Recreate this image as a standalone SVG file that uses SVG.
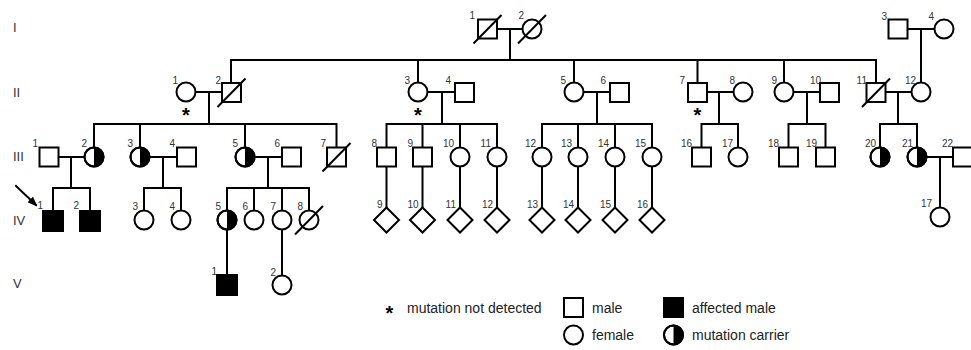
<svg xmlns="http://www.w3.org/2000/svg" xmlns:xlink="http://www.w3.org/1999/xlink" width="971" height="350" viewBox="0 0 971 350">
  <style>
    .sym { fill: #fff; stroke: #000; stroke-width: 2; }
    .aff { fill: #000; stroke: #000; stroke-width: 2; }
    .half { fill: #000; stroke: none; }
    .dead { stroke: #000; stroke-width: 2; fill: none; }
    .ln { stroke: #000; stroke-width: 2; fill: none; stroke-linecap: square; }
    .num { font-family: "Liberation Sans", Arial, sans-serif; font-size: 10px; fill: #333; text-anchor: end; }
    .gen { font-family: "Liberation Sans", Arial, sans-serif; font-size: 13px; fill: #333; }
    .star { font-family: "Liberation Sans", Arial, sans-serif; font-size: 20px; font-weight: bold; fill: #000; text-anchor: middle; }
    .leg { font-family: "Liberation Sans", Arial, sans-serif; font-size: 14px; fill: #222; }
  </style>
  <defs>
    <rect id="sq" x="-9.5" y="-9.5" width="19" height="19"/>
    <rect id="sqa" x="-10" y="-10" width="20" height="20"/>
    <circle id="ci" r="9.5"/>
    <path id="hf" d="M0,-9.5 A9.5,9.5 0 0 1 0,9.5 Z"/>
    <path id="dm" d="M0,-12.5 L12.5,0 L0,12.5 L-12.5,0 Z"/>
    <path id="sl" d="M-14,14.5 L14,-14"/>
    <marker id="ah" markerWidth="10" markerHeight="8" refX="8" refY="4" orient="auto" markerUnits="userSpaceOnUse">
      <path d="M0,0 L10,4 L0,8 Z" fill="#000"/>
    </marker>
  </defs>
  <rect width="971" height="350" fill="#fff"/>

  <!-- generation numerals -->
  <g id="generations">
    <text class="gen" x="13" y="32">I</text>
    <text class="gen" x="13" y="97">II</text>
    <text class="gen" x="13" y="161">III</text>
    <text class="gen" x="13" y="225">IV</text>
    <text class="gen" x="13" y="288">V</text>
  </g>

  <!-- lines of marriage and descent -->
  <g id="connectors" class="ln">
    <path d="M497,29 H522.5 M510,29 V60 M231,60 H876"/>
    <path d="M231,60 V82.5 M418,60 V82.5 M574,60 V82.5 M697.5,60 V82.5 M784,60 V82.5 M876,60 V82.5"/>
    <path d="M907.5,29 H934.5 M921,29 V82.5"/>
    <path d="M195.5,92 H222 M209,92 V124"/>
    <path d="M427.5,92 H455 M442,92 V124"/>
    <path d="M583.5,92 H610 M597,92 V124"/>
    <path d="M707,92 H733.5 M719,92 V124"/>
    <path d="M793.5,92 H820 M807,92 V124"/>
    <path d="M885.5,92 H911.5 M898,92 V124"/>
    <path d="M94,124 H336.5 M94,124 V147.5 M140,124 V147.5 M245,124 V147.5 M336.5,124 V147.5"/>
    <path d="M386.5,124 H497 M386.5,124 V147.5 M422.5,124 V147.5 M460,124 V147.5 M497,124 V147.5"/>
    <path d="M542,124 H652 M542,124 V147.5 M578,124 V147.5 M615,124 V147.5 M652,124 V147.5"/>
    <path d="M701.5,124 H738 M701.5,124 V147.5 M738,124 V147.5"/>
    <path d="M788.5,124 H825.5 M788.5,124 V147.5 M825.5,124 V147.5"/>
    <path d="M880,124 H917 M880,124 V147.5 M917,124 V147.5"/>
    <path d="M58.5,157 H84.5 M71,157 V188 M53,188 H90 M53,188 V210 M90,188 V210"/>
    <path d="M149.5,157 H177 M163,157 V188 M144,188 H181 M144,188 V210.5 M181,188 V210.5"/>
    <path d="M254.5,157 H282 M268,157 V188 M227,188 H309 M227,188 V210.5 M254,188 V210.5 M282,188 V210.5 M309,188 V210.5"/>
    <path d="M926.5,157 H953 M940,157 V207.5"/>
    <path d="M386.5,166.5 V207.5 M422.5,166.5 V207.5 M460,166.5 V207.5 M497,166.5 V207.5 M542,166.5 V207.5 M578,166.5 V207.5 M615,166.5 V207.5 M652,166.5 V207.5"/>
    <path d="M227,229.5 V275 M282,229.5 V275.5"/>
    <path d="M16,186 L36,205" marker-end="url(#ah)"/>
  </g>

  <!-- generation I -->
  <g id="I-1"><use href="#sq" class="sym" x="487.5" y="29"/><use href="#sl" class="dead" x="487.5" y="29"/><text class="num" x="475" y="19">1</text></g>
  <g id="I-2"><use href="#ci" class="sym" x="532" y="29"/><use href="#sl" class="dead" x="532" y="29"/><text class="num" x="524" y="19">2</text></g>
  <g id="I-3"><use href="#sq" class="sym" x="898" y="29"/><text class="num" x="887" y="20">3</text></g>
  <g id="I-4"><use href="#ci" class="sym" x="944" y="29"/><text class="num" x="934" y="20">4</text></g>

  <!-- generation II -->
  <g id="II-1"><use href="#ci" class="sym" x="186" y="92"/><text class="num" x="178" y="84">1</text><text class="star" x="186" y="121.5">*</text></g>
  <g id="II-2"><use href="#sq" class="sym" x="231.5" y="92.5"/><use href="#sl" class="dead" x="231.5" y="92.5"/><text class="num" x="221" y="84">2</text></g>
  <g id="II-3"><use href="#ci" class="sym" x="418" y="92"/><text class="num" x="410" y="84">3</text><text class="star" x="418" y="121.5">*</text></g>
  <g id="II-4"><use href="#sq" class="sym" x="464.5" y="92.5"/><text class="num" x="451" y="84">4</text></g>
  <g id="II-5"><use href="#ci" class="sym" x="574" y="92"/><text class="num" x="566" y="84">5</text></g>
  <g id="II-6"><use href="#sq" class="sym" x="619.5" y="92.5"/><text class="num" x="606" y="84">6</text></g>
  <g id="II-7"><use href="#sq" class="sym" x="697.5" y="92.5"/><text class="num" x="685" y="84">7</text><text class="star" x="697.5" y="121.5">*</text></g>
  <g id="II-8"><use href="#ci" class="sym" x="743" y="92"/><text class="num" x="735" y="84">8</text></g>
  <g id="II-9"><use href="#ci" class="sym" x="784" y="92"/><text class="num" x="777" y="84">9</text></g>
  <g id="II-10"><use href="#sq" class="sym" x="829.5" y="92.5"/><text class="num" x="821" y="84">10</text></g>
  <g id="II-11"><use href="#sq" class="sym" x="876" y="92.5"/><use href="#sl" class="dead" x="876" y="92.5"/><text class="num" x="867" y="84">11</text></g>
  <g id="II-12"><use href="#ci" class="sym" x="921" y="92"/><text class="num" x="916" y="84">12</text></g>

  <!-- generation III -->
  <g id="III-1"><use href="#sq" class="sym" x="49" y="157"/><text class="num" x="38" y="147">1</text></g>
  <g id="III-2"><use href="#ci" class="sym" x="94" y="157"/><use href="#hf" class="half" x="94" y="157"/><use href="#ci" class="dead" x="94" y="157"/><text class="num" x="87" y="147">2</text></g>
  <g id="III-3"><use href="#ci" class="sym" x="140" y="157"/><use href="#hf" class="half" x="140" y="157"/><use href="#ci" class="dead" x="140" y="157"/><text class="num" x="133" y="147">3</text></g>
  <g id="III-4"><use href="#sq" class="sym" x="186.5" y="157"/><text class="num" x="175" y="147">4</text></g>
  <g id="III-5"><use href="#ci" class="sym" x="245" y="157"/><use href="#hf" class="half" x="245" y="157"/><use href="#ci" class="dead" x="245" y="157"/><text class="num" x="238" y="147">5</text></g>
  <g id="III-6"><use href="#sq" class="sym" x="291.5" y="157"/><text class="num" x="280" y="147">6</text></g>
  <g id="III-7"><use href="#sq" class="sym" x="336.5" y="157"/><use href="#sl" class="dead" x="336.5" y="157"/><text class="num" x="326" y="147">7</text></g>
  <g id="III-8"><use href="#sq" class="sym" x="386.5" y="157"/><text class="num" x="377" y="147">8</text></g>
  <g id="III-9"><use href="#sq" class="sym" x="422.5" y="157"/><text class="num" x="413" y="147">9</text></g>
  <g id="III-10"><use href="#ci" class="sym" x="460" y="157"/><text class="num" x="454" y="147">10</text></g>
  <g id="III-11"><use href="#ci" class="sym" x="497" y="157"/><text class="num" x="491" y="147">11</text></g>
  <g id="III-12"><use href="#ci" class="sym" x="542" y="157"/><text class="num" x="536" y="147">12</text></g>
  <g id="III-13"><use href="#ci" class="sym" x="578" y="157"/><text class="num" x="572" y="147">13</text></g>
  <g id="III-14"><use href="#ci" class="sym" x="615" y="157"/><text class="num" x="609" y="147">14</text></g>
  <g id="III-15"><use href="#ci" class="sym" x="652" y="157"/><text class="num" x="646" y="147">15</text></g>
  <g id="III-16"><use href="#sq" class="sym" x="701.5" y="157"/><text class="num" x="692" y="147">16</text></g>
  <g id="III-17"><use href="#ci" class="sym" x="738" y="157"/><text class="num" x="733" y="147">17</text></g>
  <g id="III-18"><use href="#sq" class="sym" x="788.5" y="157"/><text class="num" x="779" y="147">18</text></g>
  <g id="III-19"><use href="#sq" class="sym" x="825.5" y="157"/><text class="num" x="817" y="147">19</text></g>
  <g id="III-20"><use href="#ci" class="sym" x="880" y="157"/><use href="#hf" class="half" x="880" y="157"/><use href="#ci" class="dead" x="880" y="157"/><text class="num" x="876" y="147">20</text></g>
  <g id="III-21"><use href="#ci" class="sym" x="917" y="157"/><use href="#hf" class="half" x="917" y="157"/><use href="#ci" class="dead" x="917" y="157"/><text class="num" x="913" y="147">21</text></g>
  <g id="III-22"><use href="#sq" class="sym" x="962.5" y="157"/><text class="num" x="953" y="147">22</text></g>

  <!-- generation IV -->
  <g id="IV-1"><use href="#sqa" class="aff" x="53" y="221"/><text class="num" x="43" y="209">1</text></g>
  <g id="IV-2"><use href="#sqa" class="aff" x="90" y="221"/><text class="num" x="79" y="209">2</text></g>
  <g id="IV-3"><use href="#ci" class="sym" x="144" y="220"/><text class="num" x="138" y="210">3</text></g>
  <g id="IV-4"><use href="#ci" class="sym" x="181" y="220"/><text class="num" x="175" y="210">4</text></g>
  <g id="IV-5"><use href="#ci" class="sym" x="227" y="220"/><use href="#hf" class="half" x="227" y="220"/><use href="#ci" class="dead" x="227" y="220"/><text class="num" x="221" y="210">5</text></g>
  <g id="IV-6"><use href="#ci" class="sym" x="254" y="220"/><text class="num" x="248" y="210">6</text></g>
  <g id="IV-7"><use href="#ci" class="sym" x="282" y="220"/><text class="num" x="276" y="210">7</text></g>
  <g id="IV-8"><use href="#ci" class="sym" x="309" y="220"/><use href="#sl" class="dead" x="309" y="220"/><text class="num" x="303" y="210">8</text></g>
  <g id="IV-9"><use href="#dm" class="sym" x="386.5" y="220"/><text class="num" x="382.5" y="208">9</text></g>
  <g id="IV-10"><use href="#dm" class="sym" x="422.5" y="220"/><text class="num" x="418.5" y="208">10</text></g>
  <g id="IV-11"><use href="#dm" class="sym" x="460" y="220"/><text class="num" x="456" y="208">11</text></g>
  <g id="IV-12"><use href="#dm" class="sym" x="497" y="220"/><text class="num" x="493" y="208">12</text></g>
  <g id="IV-13"><use href="#dm" class="sym" x="542" y="220"/><text class="num" x="538" y="208">13</text></g>
  <g id="IV-14"><use href="#dm" class="sym" x="578" y="220"/><text class="num" x="574" y="208">14</text></g>
  <g id="IV-15"><use href="#dm" class="sym" x="615" y="220"/><text class="num" x="611" y="208">15</text></g>
  <g id="IV-16"><use href="#dm" class="sym" x="652" y="220"/><text class="num" x="648" y="208">16</text></g>
  <g id="IV-17"><use href="#ci" class="sym" x="940" y="217"/><text class="num" x="932" y="207">17</text></g>

  <!-- generation V -->
  <g id="V-1"><use href="#sqa" class="aff" x="227" y="285"/><text class="num" x="217" y="275">1</text></g>
  <g id="V-2"><use href="#ci" class="sym" x="282" y="285"/><text class="num" x="276" y="276">2</text></g>

  <!-- key -->
  <g id="legend">
    <text class="star" x="389.5" y="320">*</text>
    <text class="leg" x="407" y="313">mutation not detected</text>
    <use href="#sq" class="sym" x="573.5" y="307.5"/>
    <text class="leg" x="592" y="313">male</text>
    <use href="#ci" class="sym" x="573.5" y="335"/>
    <text class="leg" x="592" y="340">female</text>
    <use href="#sq" class="aff" x="673.5" y="307.5"/>
    <text class="leg" x="692" y="313">affected male</text>
    <use href="#ci" class="sym" x="673.5" y="335"/>
    <use href="#hf" class="half" x="673.5" y="335"/>
    <use href="#ci" class="dead" x="673.5" y="335"/>
    <text class="leg" x="692" y="340">mutation carrier</text>
  </g>
</svg>
